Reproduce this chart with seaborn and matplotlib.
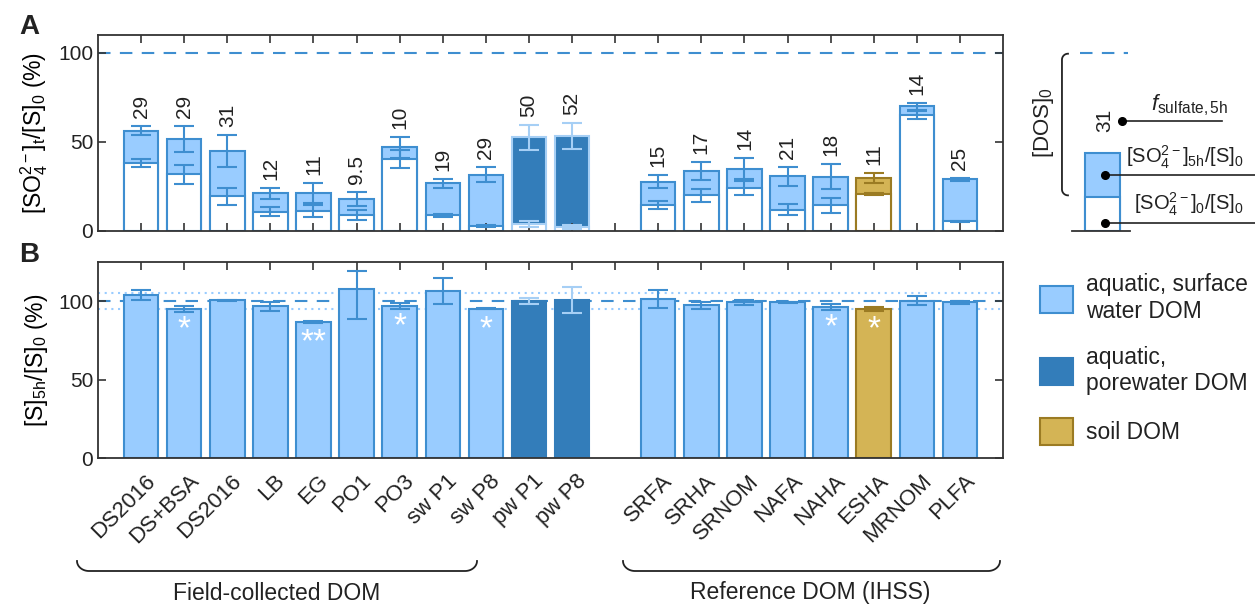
import numpy as np
import pandas as pd
import matplotlib
matplotlib.use("Agg")
import matplotlib.pyplot as plt
import seaborn as sns
from matplotlib.patches import Patch
from matplotlib.transforms import ScaledTranslation

# ---- data ----
sample_names = ["DS2016", "DS+BSA", "DS2016", "LB", "EG", "PO1", "PO3", "sw P1", "sw P8",
                "pw P1", "pw P8", "SRFA", "SRHA", "SRNOM", "NAFA", "NAHA", "ESHA", "MRNOM", "PLFA"]
positions = [0, 1, 2, 3, 4, 5, 6, 7, 8, 9, 10, 12, 13, 14, 15, 16, 17, 18, 19]
dom_type = ["surface"] * 9 + ["pore"] * 2 + ["surface"] * 5 + ["soil"] + ["surface"] * 2

# panel A: sulfate after 5 h (total bar) and initial sulfate (white part), % of [S]0
so4_5h = [56.4, 51.6, 44.9, 21.1, 21.3, 17.8, 46.9, 26.7, 31.6, 52.5, 53.5,
          27.7, 33.6, 35.0, 30.8, 30.5, 29.5, 69.9, 29.0]
so4_5h_err = [2.4, 7.5, 9.0, 3.3, 5.8, 4.0, 6.0, 2.3, 4.2, 7.0, 7.2,
              3.7, 5.1, 6.0, 5.3, 7.0, 2.8, 2.0, 1.0]
so4_0 = [38.3, 31.8, 19.4, 10.7, 11.2, 9.0, 40.4, 8.8, 2.8, 3.9, 2.1,
         14.6, 20.0, 24.1, 12.0, 14.4, 20.9, 64.9, 5.4]
so4_0_err = [2.2, 5.4, 5.0, 2.5, 3.5, 3.0, 5.3, 0.8, 0.5, 1.5, 1.2,
             2.2, 3.7, 3.7, 2.9, 4.2, 0.6, 2.2, 0.3]
f_sulfate = ["29", "29", "31", "12", "11", "9.5", "10", "19", "29", "50", "52",
             "15", "17", "14", "21", "18", "11", "14", "25"]

# panel B: total S after 5 h, % of [S]0
s_5h = [103.8, 95.1, 100.6, 96.8, 86.9, 108.0, 96.8, 106.5, 95.3, 100.0, 100.8,
        101.3, 97.5, 99.2, 99.4, 96.2, 95.1, 100.4, 99.2]
s_5h_err_lo = [3.2, 1.7, 0.3, 2.9, 0.5, 19.2, 1.8, 8.2, 0.5, 1.8, 8.4,
               5.7, 2.2, 1.4, 0.3, 2.1, 1.3, 3.0, 1.2]
s_5h_err_hi = [3.2, 1.7, 0.3, 2.9, 0.5, 11.4, 1.8, 8.2, 0.5, 1.8, 8.4,
               5.7, 2.2, 1.4, 0.3, 2.1, 1.3, 3.0, 1.2]
stars = ["", "*", "", "", "**", "", "*", "", "*", "", "",
         "", "", "", "", "*", "*", "", ""]

# schematic example bar
demo_total = [43.6]
demo_initial = [19.0]
demo_label = "31"

legend_labels = ["aquatic, surface\nwater DOM", "aquatic,\nporewater DOM", "soil DOM"]
group_labels = ["Field-collected DOM", "Reference DOM (IHSS)"]

# ---- style ----
LIGHT = "#99ccff"
EDGE = "#3e8ed0"
DARK = "#337dba"
PALE = "#a6cff5"
GOLD = "#d4b455"
GOLD_EDGE = "#9b7b23"
INK = "#222222"

plt.rcParams.update({
    "font.family": ["Liberation Sans", "DejaVu Sans"],
    "mathtext.fontset": "custom",
    "mathtext.rm": "Liberation Sans",
    "mathtext.it": "Liberation Sans:italic",
    "mathtext.bf": "Liberation Sans:bold",
    "text.color": INK,
    "axes.edgecolor": "#333333",
})

W, H = 1255, 607
fig = plt.figure(figsize=(W / 100, H / 100), dpi=100)
axA = fig.add_axes([98 / W, 1 - 231 / H, 905 / W, 196 / H])
axB = fig.add_axes([98 / W, 1 - 458 / H, 905 / W, 196 / H])

df = pd.DataFrame({"pos": positions, "dom": dom_type, "so4_5h": so4_5h,
                   "so4_0": so4_0, "s_5h": s_5h})
palette = {"surface": LIGHT, "pore": DARK, "soil": GOLD}
edgeA = {"surface": EDGE, "pore": PALE, "soil": GOLD_EDGE}
edgeB = {"surface": EDGE, "pore": DARK, "soil": GOLD_EDGE}
errB = {"surface": EDGE, "pore": PALE, "soil": GOLD_EDGE}
dom_at = dict(zip(positions, dom_type))


def recolor(ax, edge_map):
    for p in ax.patches:
        k = int(round(p.get_x() + p.get_width() / 2))
        p.set_edgecolor(edge_map[dom_at[k]])
        p.set_linewidth(1.5)


# ---- panel A ----
sns.barplot(data=df, x="pos", y="so4_5h", hue="dom", palette=palette, native_scale=True,
            width=0.8, dodge=False, saturation=1, errorbar=None, legend=False, ax=axA)
sns.barplot(data=df, x="pos", y="so4_0", color="white", native_scale=True,
            width=0.8, saturation=1, errorbar=None, ax=axA)
recolor(axA, edgeA)
for i, x in enumerate(positions):
    c = edgeA[dom_type[i]]
    axA.errorbar(x, so4_5h[i], yerr=so4_5h_err[i], fmt="none", ecolor=c,
                 elinewidth=1.5, capsize=7, capthick=1.5, zorder=4)
    axA.errorbar(x, so4_0[i], yerr=so4_0_err[i], fmt="none", ecolor=c,
                 elinewidth=1.5, capsize=7, capthick=1.5, zorder=4)
    axA.text(x, so4_5h[i] + so4_5h_err[i] + 4.5, f_sulfate[i], rotation=90,
             ha="center", va="bottom", fontsize=15)
axA.axhline(100, color=EDGE, lw=1.5, ls=(0, (6, 4.5)), zorder=0.5)
axA.set_ylim(0, 110)
axA.set_ylabel(r"[SO$_4^{2-}$]$_\mathrm{t}$/[S]$_0$ (%)", fontsize=16.5)

# ---- panel B ----
axB.axhline(100, color=EDGE, lw=1.5, ls=(0, (6, 4.5)), zorder=0.5)
for yv in (95, 105):
    axB.axhline(yv, color=LIGHT, lw=1.5, ls=(0, (1, 2.2)), zorder=0.4)
sns.barplot(data=df, x="pos", y="s_5h", hue="dom", palette=palette, native_scale=True,
            width=0.8, dodge=False, saturation=1, errorbar=None, legend=False, ax=axB)
recolor(axB, edgeB)
for i, x in enumerate(positions):
    axB.errorbar(x, s_5h[i], yerr=[[s_5h_err_lo[i]], [s_5h_err_hi[i]]], fmt="none",
                 ecolor=errB[dom_type[i]], elinewidth=1.5, capsize=7, capthick=1.5, zorder=4)
    if stars[i]:
        axB.text(x, s_5h[i] - 3.5, stars[i], color="white", ha="center", va="top",
                 fontsize=24, zorder=5)
axB.set_ylim(0, 125)
axB.set_ylabel(r"[S]$_\mathrm{5h}$/[S]$_0$ (%)", fontsize=16.5)

tick_labels = sample_names[:11] + [""] + sample_names[11:]
for ax in (axA, axB):
    ax.set_xlim(-1, 20)
    ax.set_xticks(range(20))
    ax.set_yticks([0, 50, 100])
    ax.set_xlabel("")
    ax.tick_params(direction="in", length=6, width=1.2, top=True, right=True,
                   labelsize=15, colors="#333333", labelcolor=INK)
    ax.set_axisbelow(False)
    for s in ax.spines.values():
        s.set_linewidth(1.3)
    ax.yaxis.set_label_coords(-0.053, 0.5)
axA.tick_params(axis="x", labelbottom=False)
axB.tick_params(axis="x", bottom=False, pad=9)
axB.set_xticklabels(tick_labels, rotation=45, ha="right", va="top",
                    rotation_mode="anchor", fontsize=16)
shift = ScaledTranslation(4 / 100, 0, fig.dpi_scale_trans)
for lab in axB.get_xticklabels():
    lab.set_transform(lab.get_transform() + shift)

# ---- schematic of one bar ----
sch = fig.add_axes([1015 / W, 1 - 231 / H, 240 / W, 196 / H])
sns.barplot(x=[0], y=demo_total, color=LIGHT, native_scale=True, width=0.8,
            saturation=1, errorbar=None, ax=sch, edgecolor=EDGE, linewidth=1.5)
sns.barplot(x=[0], y=demo_initial, color="white", native_scale=True, width=0.8,
            saturation=1, errorbar=None, ax=sch, edgecolor=EDGE, linewidth=1.5)
sch.set_xlim(-2.03, 3.54)
sch.set_ylim(0, 110)
sch.axis("off")
sch.plot([-0.52, 0.6], [100, 100], color=EDGE, lw=1.5, ls=(0, (6, 4.5)))
sch.plot([-0.71, 0.64], [0, 0], color="#333333", lw=1.3, clip_on=False)
sch.text(0.06, 55.3, demo_label, rotation=90, ha="center", va="bottom", fontsize=15)
dot_y = [62.0, (demo_initial[0] + demo_total[0]) / 2, 4.5]
dot_x = [0.45, 0.06, 0.06]
line_end = [2.77, 3.7, 3.7]
for dx, dy, le in zip(dot_x, dot_y, line_end):
    sch.plot([dx, le], [dy, dy], color="#222222", lw=1.2, clip_on=False)
    sch.plot(dx, dy, "o", color="black", ms=5.5, zorder=5)
sch.text(2.03, 63.5, r"$f_{\mathrm{sulfate,5h}}$", ha="center", va="bottom", fontsize=16)
sch.text(0.55, 33.5, r"[SO$_4^{2-}$]$_\mathrm{5h}$/[S]$_0$", ha="left", va="bottom",
         fontsize=14.5)
sch.text(0.74, 7.5, r"[SO$_4^{2-}$]$_0$/[S]$_0$", ha="left", va="bottom",
         fontsize=14.5)
sch.text(-1.38, 61, r"[DOS]$_0$", rotation=90, ha="center", va="center", fontsize=16)

# rounded bracket spanning [DOS]0
bx, rx, ry = -0.94, 0.14, 3.4
th_top = np.linspace(np.pi / 2, np.pi, 20)
th_bot = np.linspace(np.pi, 1.5 * np.pi, 20)
brx = np.r_[bx + rx + rx * np.cos(th_top), bx + rx + rx * np.cos(th_bot)]
bry = np.r_[99.5 - ry + ry * np.sin(th_top), 20 + ry + ry * np.sin(th_bot)]
sch.plot(brx, bry, color="#222222", lw=1.3)

# ---- legend ----
handles = [Patch(facecolor=LIGHT, edgecolor=EDGE, lw=1.5),
           Patch(facecolor=DARK, edgecolor=DARK, lw=1.5),
           Patch(facecolor=GOLD, edgecolor=GOLD_EDGE, lw=1.5)]
fig.legend(handles, legend_labels, loc="upper left", bbox_to_anchor=(1040 / W, 1 - 273 / H),
           frameon=False, fontsize=16.5, handlelength=1.44, handleheight=1.44,
           handletextpad=0.55, labelspacing=1.0, borderpad=0, borderaxespad=0)

# ---- overlay: panel letters, group braces ----
ov = fig.add_axes([0, 0, 1, 1])
ov.set_xlim(0, W)
ov.set_ylim(H, 0)
ov.axis("off")
ov.text(29, 27, "A", fontsize=20, fontweight="bold", ha="center", va="center")
ov.text(29, 255, "B", fontsize=20, fontweight="bold", ha="center", va="center")


def brace(x0, x1, ytop, ybot, r):
    tt = np.linspace(0, np.pi / 2, 20)
    lx = x0 + r - r * np.cos(tt)
    ly = ytop + (ybot - ytop) * np.sin(tt)
    rxs = x1 - r + r * np.cos(tt[::-1])
    rys = ytop + (ybot - ytop) * np.sin(tt[::-1])
    ov.plot(np.r_[lx, rxs], np.r_[ly, rys], color="#222222", lw=1.3)


brace(77, 477, 561, 571, 12)
brace(623, 1000, 561, 571, 12)
ov.text(277, 593, group_labels[0], ha="center", va="center", fontsize=16.5)
ov.text(810, 593, group_labels[1], ha="center", va="center", fontsize=16.5)

fig.savefig("out.png", dpi=100)
